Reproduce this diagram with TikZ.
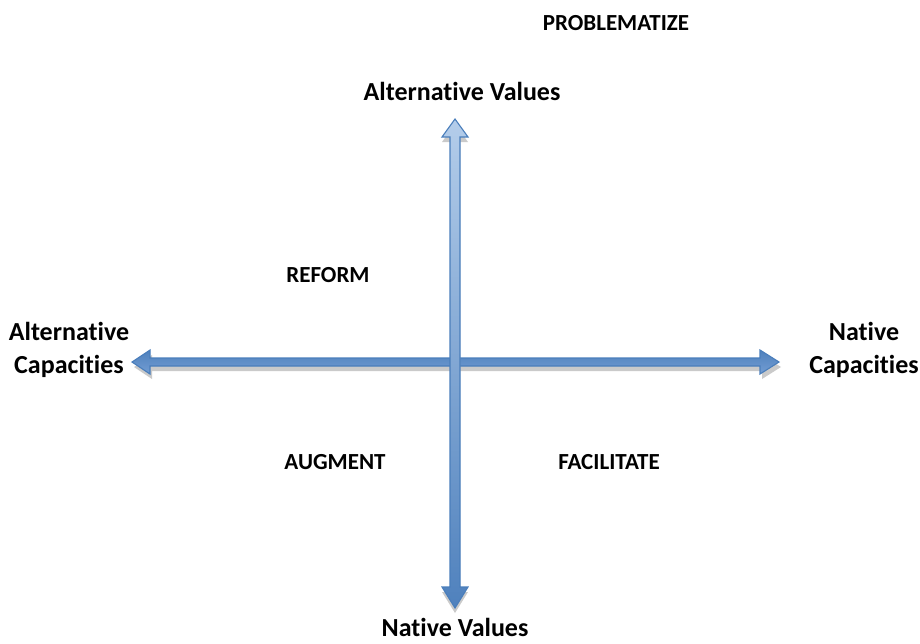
\documentclass[tikz,border=0pt]{standalone}
\usepackage{fontspec}
\setmainfont{Carlito}[Ligatures=NoCommon]
\definecolor{arrowline}{HTML}{4A7EBB}
\definecolor{arrowlight}{HTML}{B4CDEA}
\definecolor{arrowdark}{HTML}{4F81BD}
\definecolor{arrowmid}{HTML}{739DD3}
\definecolor{shadowgray}{HTML}{CACACA}
\tikzset{
	quadrant/.style={font=\bfseries\fontsize{23}{26}\selectfont,inner sep=0pt},
	axislabel/.style={font=\bfseries\fontsize{26}{33}\selectfont,inner sep=0pt,align=center},
	blockarrow/.style={draw=arrowline,line width=1.1pt,line join=miter},
	arrowshadow/.style={fill=shadowgray,draw=none}
}
\begin{document}
\begin{tikzpicture}[x=1pt,y=-1pt]
	\useasboundingbox (0,0) rectangle (920,643);
	% arrow tips
	\coordinate (up) at (455,119);
	\coordinate (down) at (455,608);
	\coordinate (lft) at (132,362);
	\coordinate (rgt) at (779,362);
	% horizontal arrow
	\fill[arrowshadow] ([shift={(2,5)}]lft) -- ++(18,-12) -- ++(0,8) -- ++(610,0) -- ++(0,-8) -- ++(19,12)
		-- ++(-19,12) -- ++(0,-8) -- ++(-610,0) -- ++(0,8) -- cycle;
	\shade[blockarrow,top color=arrowdark,bottom color=arrowmid] (lft) -- ++(18,-12) -- ++(0,8) -- ++(610,0) -- ++(0,-8) -- (rgt)
		-- ++(-19,12) -- ++(0,-8) -- ++(-610,0) -- ++(0,8) -- cycle;
	% vertical arrow
	\fill[arrowshadow] ([shift={(0,5)}]up) -- ++(13,18) -- ++(-8,0) -- ++(0,450) -- ++(8,0) -- ++(-13,21)
		-- ++(-13,-21) -- ++(8,0) -- ++(0,-450) -- ++(-8,0) -- cycle;
	\shade[blockarrow,top color=arrowlight,bottom color=arrowdark] (up) -- ++(13,18) -- ++(-8,0) -- ++(0,450) -- ++(8,0) -- (down)
		-- ++(-13,-21) -- ++(8,0) -- ++(0,-450) -- ++(-8,0) -- cycle;
	% labels
	\node[axislabel] (altval) at (462,91) {Alternative Values};
	\node[axislabel] (natval) at (455,627) {Native Values};
	\node[axislabel] (altcap) at (69,350) {Alternative\\Capacities};
	\node[axislabel] (natcap) at (864,350) {Native\\Capacities};
	\node[quadrant] (problem) at (616,23) {PROBLEMATIZE};
	\node[quadrant] (reform) at (328,275) {REFORM};
	\node[quadrant] (augment) at (335,462) {AUGMENT};
	\node[quadrant] (facil) at (609,462) {FACILITATE};
\end{tikzpicture}
\end{document}
